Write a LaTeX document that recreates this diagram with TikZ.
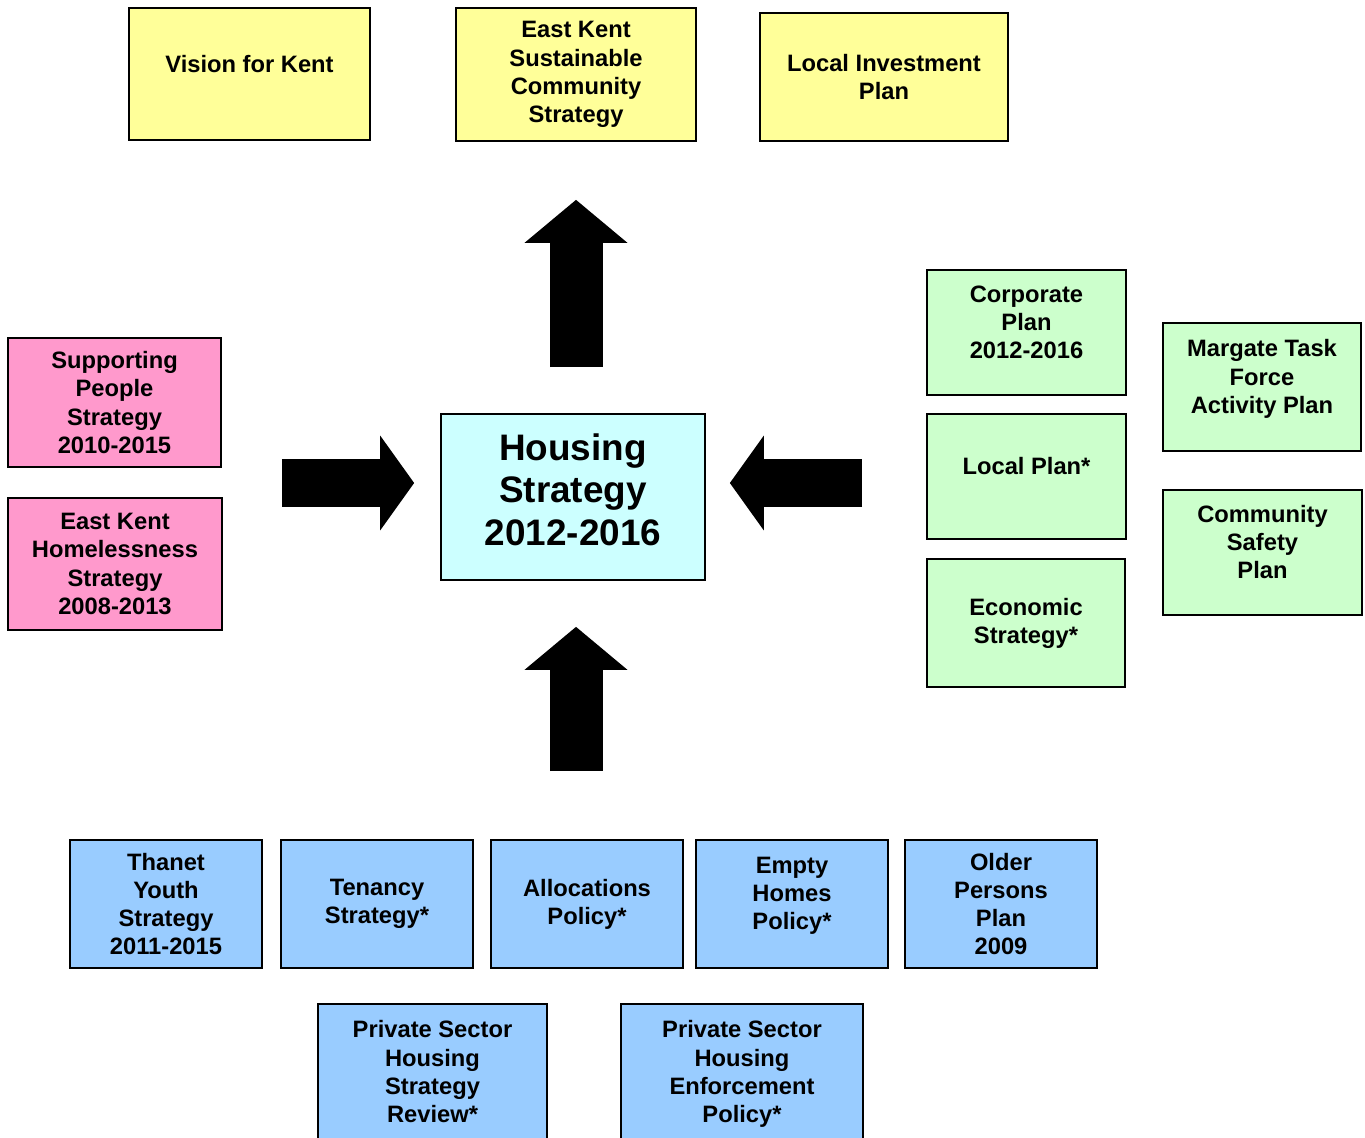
\documentclass[tikz,border=0pt]{standalone}
\usepackage{fontspec}
\setmainfont{Liberation Sans}
\usetikzlibrary{arrows.meta}

\definecolor{kentyellow}{HTML}{FFFF99}
\definecolor{hscyan}{HTML}{CCFFFF}
\definecolor{inpink}{HTML}{FF99CC}
\definecolor{localgreen}{HTML}{CCFFCC}
\definecolor{policyblue}{HTML}{99CCFF}

% pushes the text of a box up by about half a line
\newcommand\lift{\\[-4pt]\mbox{}}

\begin{document}
\begin{tikzpicture}[x=0.02cm, y=-0.02cm,
    doc/.style={draw, line width=1pt, align=center, inner sep=0pt,
      font={\bfseries\fontsize{13.5}{16}\selectfont}},
    wh/.style 2 args={minimum width=#1*0.02cm, minimum height=#2*0.02cm},
    county/.style={doc, fill=kentyellow},
    centre/.style={doc, fill=hscyan, font={\bfseries\fontsize{21}{24.4}\selectfont}},
    feeder/.style={doc, fill=inpink},
    district/.style={doc, fill=localgreen},
    policy/.style={doc, fill=policyblue},
    vblock/.style={line width=1.06cm, -{Triangle[length=0.86cm, width=2.06cm, line width=0pt]}},
    hblock/.style={line width=0.96cm, -{Triangle[length=0.68cm, width=1.9cm, line width=0pt]}}]
  \useasboundingbox (0,0) rectangle (1365,1138);

  % county level
  \node[county, wh={241}{132}] (vision) at (249.5,74) {Vision for Kent\lift};
  \node[county, wh={240}{133}] (ekscs) at (576,74.5) {East Kent\\Sustainable\\Community\\Strategy};
  \node[county, wh={248}{128}] (lip) at (884,77) {Local Investment\\Plan};

  % the strategy itself
  \node[centre, wh={264}{166}] (hs) at (573,497) {Housing\\Strategy\\2012-2016\\[-16pt]\mbox{}};

  % left hand side
  \node[feeder, wh={213}{129}] (sp) at (114.5,402.5) {Supporting\\People\\Strategy\\2010-2015};
  \node[feeder, wh={214}{132}] (ekh) at (115,564) {East Kent\\Homelessness\\Strategy\\2008-2013};

  % right hand side
  \node[district, wh={199}{125}] (corp) at (1026.5,332.5) {Corporate\\Plan\\2012-2016\lift};
  \node[district, wh={199}{125}] (lplan) at (1026.5,476.5) {Local Plan*\lift};
  \node[district, wh={198}{128}] (econ) at (1026,623) {Economic\\Strategy*};
  \node[district, wh={198}{128}] (margate) at (1262,387) {Margate Task\\Force\\Activity Plan\lift};
  \node[district, wh={199}{125}] (safety) at (1262.5,552.5) {Community\\Safety\\Plan\lift};

  % policies underneath
  \node[policy, wh={192}{128}] (youth) at (166,904) {Thanet\\Youth\\Strategy\\2011-2015};
  \node[policy, wh={192}{128}] (tenancy) at (377,904) {Tenancy\\Strategy*};
  \node[policy, wh={192}{128}] (alloc) at (587,904) {Allocations\\Policy*};
  \node[policy, wh={192}{128}] (empty) at (792,904) {Empty\\Homes\\Policy*\lift};
  \node[policy, wh={192}{128}] (older) at (1001,904) {Older\\Persons\\Plan\\2009};
  \node[policy, wh={229}{156}] (pshsr) at (432.5,1082) {Private Sector\\Housing\\Strategy\\Review*\lift};
  \node[policy, wh={242}{156}] (pshep) at (742,1082) {Private Sector\\Housing\\Enforcement\\Policy*\lift};

  \coordinate (hsin) at ([yshift=0.28cm]hs.west);
  \coordinate (hsout) at ([yshift=0.28cm]hs.east);

  \draw[vblock, shorten <=0.92cm, shorten >=1.16cm] (ekscs.south |- hs.north) -- (ekscs.south);
  \draw[vblock, shorten <=1.36cm, shorten >=0.92cm] (ekscs.south |- alloc.north) -- (ekscs.south |- hs.south);
  \draw[hblock, shorten <=1.2cm, shorten >=0.52cm] (sp.east |- hsin) -- (hsin);
  \draw[hblock, shorten <=1.28cm, shorten >=0.48cm] (corp.west |- hsout) -- (hsout);
\end{tikzpicture}
\end{document}
